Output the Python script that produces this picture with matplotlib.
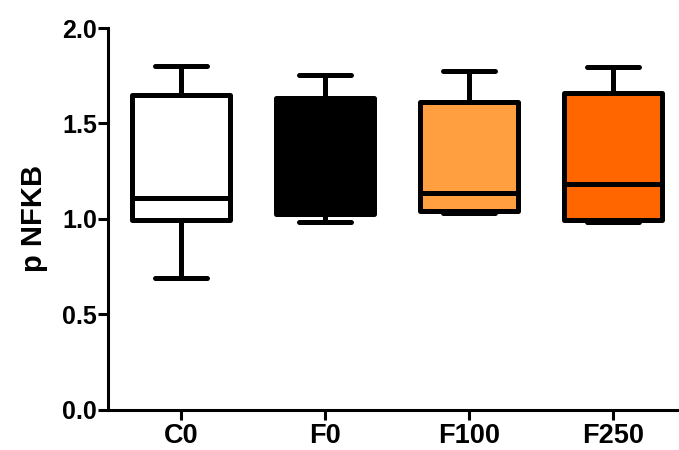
import numpy as np
import matplotlib
matplotlib.use("Agg")
import matplotlib.pyplot as plt

plt.rcParams["font.family"] = ["Liberation Sans", "DejaVu Sans"]
plt.rcParams["font.weight"] = "bold"

# five-number summaries per group (min, q1, median, q3, max)
groups = ["C0", "F0", "F100", "F250"]
whislo = [0.692, 0.983, 1.030, 0.983]
q1 = [0.992, 1.023, 1.041, 0.996]
med = [1.109, 1.040, 1.137, 1.181]
q3 = [1.650, 1.633, 1.612, 1.661]
whishi = [1.800, 1.751, 1.772, 1.795]
colors = ["#FFFFFF", "#000000", "#FF9F40", "#FF6600"]

stats = [
    {"label": g, "whislo": lo, "q1": a, "med": m, "q3": b, "whishi": hi, "fliers": []}
    for g, lo, a, m, b, hi in zip(groups, whislo, q1, med, q3, whishi)
]

fig = plt.figure(figsize=(6.79, 4.5), dpi=100)
ax = fig.add_axes([108 / 679, 40.5 / 450, 1 - 108 / 679, 381.5 / 450])

lw = 3.6
line_kw = dict(color="black", linewidth=lw, solid_capstyle="round")
bp = ax.bxp(stats, positions=np.arange(len(groups)), widths=0.68, capwidths=0.36,
            patch_artist=True, showfliers=False,
            boxprops=dict(edgecolor="black", linewidth=lw, joinstyle="round"),
            whiskerprops=line_kw, capprops=line_kw,
            medianprops=dict(color="black", linewidth=lw))
for patch, c in zip(bp["boxes"], colors):
    patch.set_facecolor(c)
for w in bp["whiskers"] + bp["caps"]:
    w.set_zorder(1)

ax.set_xlim(-0.507, 3.46)
ax.set_ylim(0, 2.0)
ax.set_yticks([0.0, 0.5, 1.0, 1.5, 2.0])
ax.set_yticklabels(["0.0", "0.5", "1.0", "1.5", "2.0"], fontsize=18, fontweight="bold")
ax.set_xticks(np.arange(len(groups)))
ax.set_xticklabels(groups, fontsize=19.5, fontweight="bold")
ax.set_ylabel("p NFKB", fontsize=21, fontweight="bold", labelpad=10)

for s in ["top", "right"]:
    ax.spines[s].set_visible(False)
for s in ["left", "bottom"]:
    ax.spines[s].set_linewidth(2.2)
ax.tick_params(axis="y", width=2.2, length=7, pad=1)
ax.tick_params(axis="x", width=2.2, length=7, pad=3)

fig.savefig("out.png", dpi=100)
